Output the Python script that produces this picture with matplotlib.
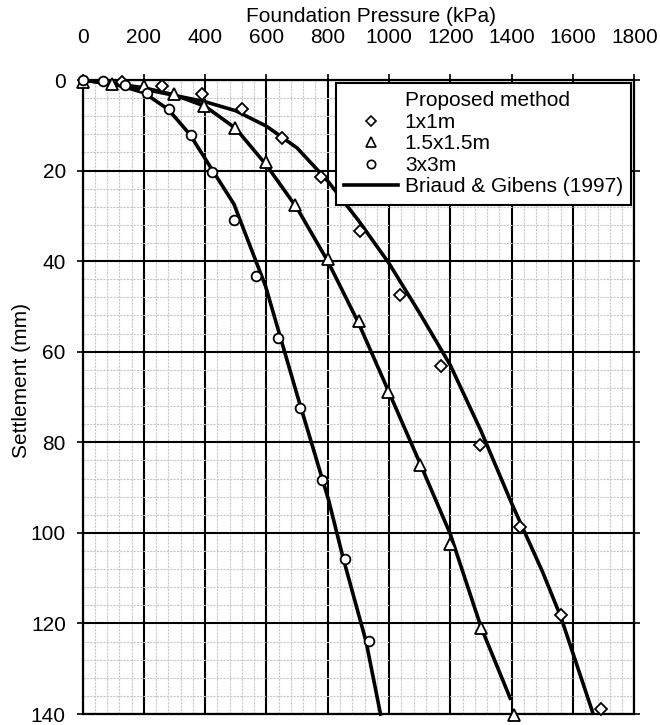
import matplotlib
matplotlib.use("Agg")
import matplotlib.pyplot as plt
from matplotlib.lines import Line2D
from matplotlib.ticker import MultipleLocator

plt.rcParams['font.family'] = ['Liberation Sans', 'DejaVu Sans']

# ---- data: Proposed method (markers) ----
p1x1_x = [130, 260, 391, 521, 651, 778, 905, 1037, 1168, 1298, 1428, 1560, 1691]
p1x1_y = [0.4, 1.4, 3.2, 6.3, 12.9, 21.5, 33.4, 47.5, 63.2, 80.5, 98.6, 118.2, 138.8]

p15_x = [0, 97, 200, 299, 395, 499, 597, 694, 800, 902, 998, 1102, 1200, 1300, 1407]
p15_y = [0.5, 0.8, 1.4, 3.0, 5.8, 10.6, 18.0, 27.6, 39.5, 53.2, 68.8, 85.1, 102.4, 121.0, 140.2]

p3x3_x = [0, 66, 138, 209, 282, 353, 424, 494, 566, 638, 709, 780, 857, 934]
p3x3_y = [0, 0.3, 1.0, 2.8, 6.4, 12.1, 20.4, 31.0, 43.2, 57.0, 72.4, 88.3, 105.7, 123.8]

# ---- data: Briaud & Gibens (1997) curves ----
bg1x1_x = [0, 200, 400, 500, 600, 700, 800, 900, 1000, 1100, 1200, 1300, 1400, 1500, 1560, 1665]
bg1x1_y = [0, 2.0, 4.8, 6.8, 10.2, 15.0, 22.3, 31.0, 40.5, 51.5, 63.0, 77.5, 93.5, 108.5, 118.5, 139.8]

bg15_x = [0, 100, 200, 300, 400, 500, 600, 700, 800, 900, 1000, 1100, 1200, 1300, 1395]
bg15_y = [0, 0.8, 1.7, 3.3, 5.8, 10.7, 18.8, 28.3, 40.0, 53.6, 69.0, 84.5, 100.3, 120.8, 136.5]

bg3x3_x = [0, 100, 200, 280, 350, 420, 494, 597, 700, 803, 850, 925, 972]
bg3x3_y = [0, 0.8, 2.8, 6.5, 12.0, 19.5, 27.4, 45.5, 69.5, 92.8, 105.5, 124.0, 140]

xticks = [0, 200, 400, 600, 800, 1000, 1200, 1400, 1600, 1800]
yticks = [0, 20, 40, 60, 80, 100, 120, 140]

legend_labels = ['Proposed method', '1x1m', '1.5x1.5m', '3x3m', 'Briaud & Gibens (1997)']

FS = 15
W, H = 660, 725
fig = plt.figure(figsize=(W / 100, H / 100), dpi=100)
ax = fig.add_axes([82.5 / W, 1 - 714 / H, 551.8 / W, 634 / H])

ax.set_xlim(0, 1800)
ax.set_ylim(140, 0)

# grids
ax.xaxis.set_major_locator(MultipleLocator(200))
ax.xaxis.set_minor_locator(MultipleLocator(40))
ax.yaxis.set_major_locator(MultipleLocator(20))
ax.yaxis.set_minor_locator(MultipleLocator(4))
ax.grid(which='minor', color='#c8c8c8', linestyle=(0, (2, 1)), linewidth=0.8)
ax.grid(which='major', color='black', linestyle='-', linewidth=1.5)
ax.set_axisbelow(True)

ax.xaxis.tick_top()
ax.set_xticks(xticks)
ax.set_yticks(yticks)
ax.tick_params(axis='x', which='major', top=True, bottom=False, direction='out',
               length=4, width=1.2, labelsize=FS, pad=20)
ax.tick_params(axis='y', which='major', left=True, right=True, direction='out',
               length=4, width=1.2, labelsize=FS, pad=8)
ax.tick_params(which='minor', length=0)
for s in ax.spines.values():
    s.set_linewidth(1.6)
    s.set_color('black')

lw = 2.6
ax.plot(bg1x1_x, bg1x1_y, color='black', lw=lw, zorder=3, clip_on=False)
ax.plot(bg15_x, bg15_y, color='black', lw=lw, zorder=3, clip_on=False)
ax.plot(bg3x3_x, bg3x3_y, color='black', lw=lw, zorder=3, clip_on=False)

mk = dict(linestyle='none', markerfacecolor='white', markeredgecolor='black',
          markeredgewidth=1.3, zorder=4, clip_on=False)
ax.plot(p1x1_x, p1x1_y, marker='D', markersize=6, **mk)
ax.plot(p15_x, p15_y, marker='^', markersize=8.5, **mk)
ax.plot(p3x3_x, p3x3_y, marker='o', markersize=7, **mk)

fig.text(371.5 / W, 1 - 17 / H, 'Foundation Pressure (kPa)', fontsize=FS,
         ha='center', va='center')
fig.text(22 / W, 1 - 380 / H, 'Settlement (mm)', fontsize=FS, rotation=90,
         ha='center', va='center')

lmk = dict(linestyle='none', markerfacecolor='white', markeredgecolor='black',
           markeredgewidth=1.2)
handles = [
    Line2D([], [], linestyle='none', marker=None),
    Line2D([], [], marker='D', markersize=5, **lmk),
    Line2D([], [], marker='^', markersize=7, **lmk),
    Line2D([], [], marker='o', markersize=6, **lmk),
    Line2D([], [], color='black', lw=lw),
]
leg = ax.legend(handles, legend_labels, loc='upper right',
                bbox_to_anchor=(1 - 3 / 551.8, 1 - 3 / 634), borderaxespad=0,
                fontsize=FS, frameon=True, fancybox=False, shadow=False,
                framealpha=1, edgecolor='black', labelspacing=0.12,
                handlelength=2.55, handletextpad=0.35, borderpad=0.4)
leg.get_frame().set_linewidth(1.5)
leg.set_zorder(6)

fig.savefig('out.png', dpi=100)
